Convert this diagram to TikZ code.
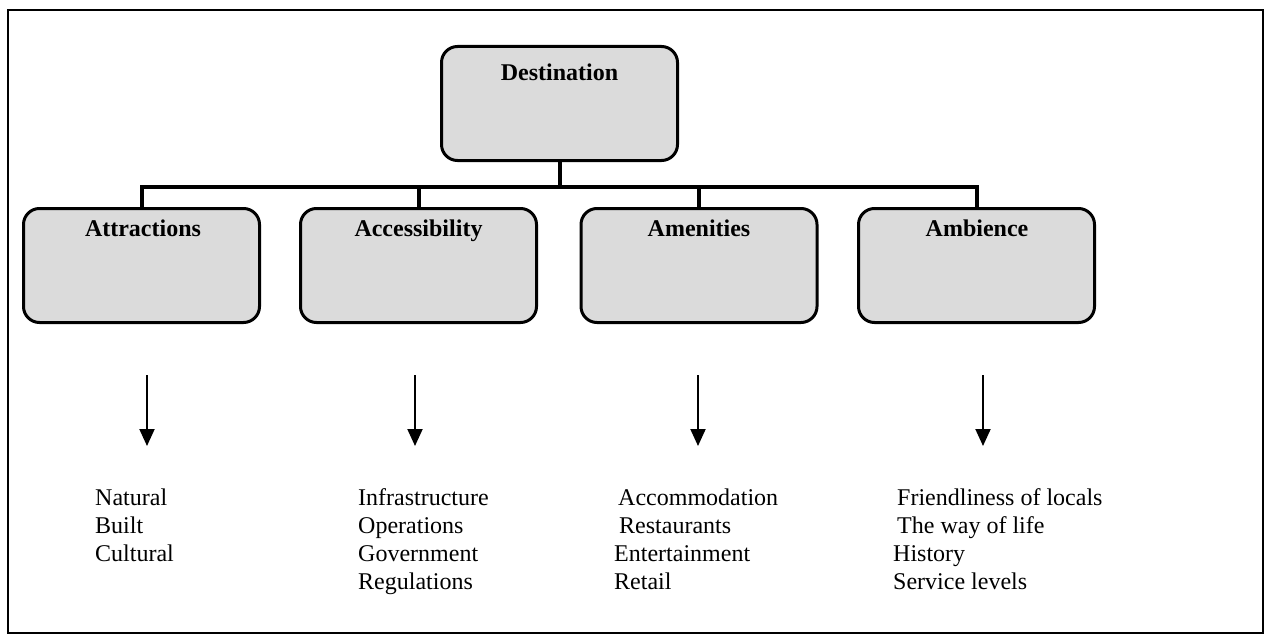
\documentclass[tikz,border=0pt]{standalone}
\usepackage{fontspec}
\setmainfont{Liberation Serif}
\usetikzlibrary{arrows.meta}
\begin{document}
\begin{tikzpicture}[x=1pt,y=-1pt,
  box/.style={draw=black, line width=3pt, rounded corners=16pt, fill=black!14,
              minimum width=236pt, minimum height=114pt, inner sep=0pt},
  boxlabel/.style={font=\fontsize{24}{28}\selectfont\bfseries, inner sep=0pt, anchor=base},
  bus/.style={line width=4pt},
  down/.style={line width=2pt, -{Triangle[width=15pt,length=17pt]}},
  item/.style={font=\fontsize{24}{28}\selectfont, anchor=base west, inner sep=0pt}
]
\useasboundingbox (0,0) rectangle (1268,634);
\draw[line width=2pt] (8,10) rectangle (1263,633);

% boxes
\node[box] (dest) at (559.5,103.5) {};
\node[box] (attr) at (141.5,265.5) {};
\node[box] (acc)  at (418.5,265.5) {};
\node[box] (amen) at (699,265.5) {};
\node[box] (amb)  at (976.5,265.5) {};

\node[boxlabel] (destl) at (559.5,80) {Destination};
\node[boxlabel] (attrl) at (143,236) {Attractions};
\node[boxlabel] (accl)  at (418.5,236) {Accessibility};
\node[boxlabel] (amenl) at (699,236) {Amenities};
\node[boxlabel] (ambl)  at (977,236) {Ambience};

% bus connectors
\coordinate (bus) at (0,187);
\draw[bus] (attr.north) |- (bus -| amb.north) -- (amb.north);
\draw[bus] (dest.south) -- (dest.south |- bus);
\draw[bus] (acc.north) -- (acc.north |- bus);
\draw[bus] (amen.north) -- (amen.north |- bus);

% arrows
\coordinate (a1s) at (147,375); \coordinate (a1e) at (147,446);
\coordinate (a2s) at (415,375); \coordinate (a2e) at (415,446);
\coordinate (a3s) at (698,375); \coordinate (a3e) at (698,446);
\coordinate (a4s) at (983,375); \coordinate (a4e) at (983,446);
\draw[down] (a1s) -- (a1e);
\draw[down] (a2s) -- (a2e);
\draw[down] (a3s) -- (a3e);
\draw[down] (a4s) -- (a4e);

% lists
\node[item] (n1) at (95,505) {Natural};
\node[item] (n2) at (95,533) {Built};
\node[item] (n3) at (95,561) {Cultural};

\node[item] (c1) at (358,505) {Infrastructure};
\node[item] (c2) at (358,533) {Operations};
\node[item] (c3) at (358,561) {Government};
\node[item] (c4) at (358,589) {Regulations};

\node[item] (m1) at (618,505) {Accommodation};
\node[item] (m2) at (619,533) {Restaurants};
\node[item] (m3) at (614,561) {Entertainment};
\node[item] (m4) at (614,589) {Retail};

\node[item] (b1) at (897,505) {Friendliness of locals};
\node[item] (b2) at (897,533) {The way of life};
\node[item] (b3) at (893,561) {History};
\node[item] (b4) at (893,589) {Service levels};
\end{tikzpicture}
\end{document}
